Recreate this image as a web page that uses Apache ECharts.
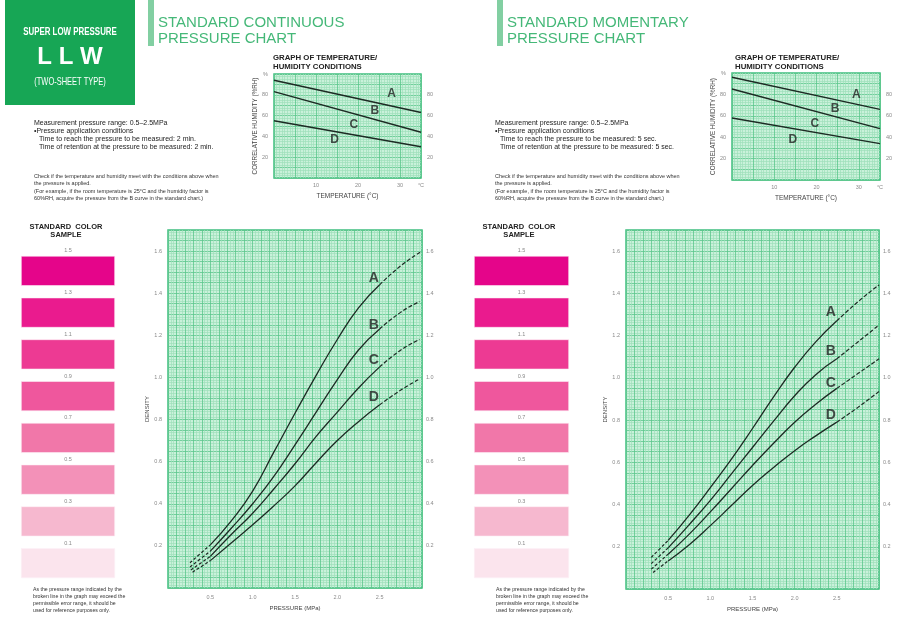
<!DOCTYPE html>
<html>
<head>
<meta charset="utf-8">
<title>LLW pressure charts</title>
<script src="https://cdn.jsdelivr.net/npm/echarts@6/dist/echarts.min.js"></script>
<style>
html, body { margin: 0; padding: 0; background: #fff; }
#main { width: 900px; height: 618px; }
</style>
</head>
<body>
<div id="main"></div>
<script>
'use strict';

// density curves [pressure (MPa), density]
var curveNames = ['A', 'B', 'C', 'D'];
var contA = [[0.26, 0.12], [0.5, 0.205], [0.75, 0.32], [1.0, 0.46], [1.25, 0.645], [1.5, 0.83], [1.75, 1.01], [2.0, 1.18], [2.25, 1.33], [2.5, 1.44], [2.75, 1.53], [3.0, 1.60]];
var contB = [[0.26, 0.10], [0.5, 0.175], [0.75, 0.285], [1.0, 0.40], [1.25, 0.53], [1.5, 0.68], [1.75, 0.835], [2.0, 0.99], [2.25, 1.13], [2.5, 1.23], [2.75, 1.31], [2.97, 1.36]];
var contC = [[0.27, 0.086], [0.5, 0.15], [0.75, 0.255], [1.0, 0.355], [1.25, 0.47], [1.5, 0.59], [1.75, 0.72], [2.0, 0.835], [2.25, 0.95], [2.5, 1.05], [2.75, 1.13], [2.97, 1.18]];
var contD = [[0.29, 0.075], [0.5, 0.13], [0.75, 0.215], [1.0, 0.30], [1.25, 0.39], [1.5, 0.485], [1.75, 0.595], [2.0, 0.70], [2.25, 0.79], [2.5, 0.87], [2.75, 0.94], [2.96, 0.99]];

var momA = [[0.3, 0.15], [0.5, 0.23], [0.75, 0.35], [1.0, 0.48], [1.25, 0.615], [1.5, 0.76], [1.75, 0.91], [2.0, 1.05], [2.25, 1.17], [2.5, 1.27], [2.75, 1.36], [3.0, 1.44]];
var momB = [[0.3, 0.12], [0.5, 0.195], [0.75, 0.305], [1.0, 0.42], [1.25, 0.545], [1.5, 0.67], [1.75, 0.795], [2.0, 0.915], [2.25, 1.015], [2.5, 1.09], [2.75, 1.17], [3.0, 1.25]];
var momC = [[0.3, 0.094], [0.5, 0.165], [0.75, 0.26], [1.0, 0.365], [1.25, 0.475], [1.5, 0.585], [1.75, 0.69], [2.0, 0.79], [2.25, 0.875], [2.5, 0.95], [2.75, 1.02], [3.0, 1.09]];
var momD = [[0.32, 0.078], [0.5, 0.133], [0.75, 0.21], [1.0, 0.30], [1.25, 0.395], [1.5, 0.49], [1.75, 0.575], [2.0, 0.655], [2.25, 0.725], [2.5, 0.79], [2.75, 0.86], [3.0, 0.935]];

var contLabelAt = [[2.43, 1.47], [2.43, 1.25], [2.43, 1.08], [2.43, 0.906]];
var momLabelAt = [[2.43, 1.31], [2.43, 1.127], [2.43, 0.975], [2.43, 0.825]];

// temperature / humidity boundaries [temperature, humidity]
var contHumTop = [[0, 94], [35, 63]];
var contHumMid = [[0, 83], [35, 44]];
var contHumLow = [[0, 55], [35, 30]];
var momHumTop = [[0, 96], [35, 66]];
var momHumMid = [[0, 85], [35, 48]];
var momHumLow = [[0, 58], [35, 34]];
var contZoneAt = [[28, 81], [24, 64.5], [19, 51.5], [14.4, 36.5]];
var momZoneAt = [[29.4, 80], [24.4, 67], [19.6, 53], [14.4, 38]];

// colour samples
var swatchDensity = ['1.5', '1.3', '1.1', '0.9', '0.7', '0.5', '0.3', '0.1'];
var swatchColors = ['#e5058a', '#ea1b8e', '#ed3a93', '#ef579d', '#f177a9', '#f391b8', '#f6b8cf', '#fbe4ed'];

// tick labels
var pressureTicks = [0.5, 1.0, 1.5, 2.0, 2.5];
var densityTicks = [0.2, 0.4, 0.6, 0.8, 1.0, 1.2, 1.4, 1.6];
var tempTicks = [10, 20, 30];
var humidityTicks = [20, 40, 60, 80];

var ink = '#1c2a23';
var green = '#45b878';
var font = 'Liberation Sans, Arial, sans-serif';
var gridBg = '#c9f1da';
var major = '#5cc78c';
var minor = '#9edfba';
var tickGray = '#8a8a8a';

function inList(list, v) {
    return list.some(function (t) { return Math.abs(t - v) < 1e-6; });
}

function paperLines(step) {
    return {
        splitLine: { show: true, lineStyle: { color: major, width: 0.8 } },
        minorTick: { show: false, splitNumber: step },
        minorSplitLine: { show: true, lineStyle: { color: minor, width: 0.7 } }
    };
}

function tempAxis(gi) {
    return Object.assign({
        type: 'value', gridIndex: gi, min: 0, max: 35, interval: 5,
        name: 'TEMPERATURE (°C)', nameLocation: 'middle', nameGap: 15,
        nameTextStyle: { fontSize: 6.5, color: '#444', fontFamily: font },
        axisLine: { show: false }, axisTick: { show: false },
        axisLabel: {
            fontSize: 5.5, color: tickGray, margin: 4, fontFamily: font,
            formatter: function (v) { return inList(tempTicks, v) ? String(v) : (v === 35 ? '°C' : ''); }
        }
    }, paperLines(8));
}

function humAxis(gi, right) {
    var ax = {
        type: 'value', gridIndex: gi, min: 0, max: 100, interval: 10,
        position: right ? 'right' : 'left',
        axisLine: { show: false }, axisTick: { show: false },
        axisLabel: {
            fontSize: 5.5, color: tickGray, margin: 6, fontFamily: font,
            formatter: function (v) {
                if (inList(humidityTicks, v)) return String(v);
                return (!right && v === 100) ? '%' : '';
            }
        }
    };
    if (right) {
        ax.splitLine = { show: false };
    } else {
        ax.name = 'CORRELATIVE HUMIDITY (%RH)';
        ax.nameLocation = 'middle';
        ax.nameGap = 14;
        ax.nameTextStyle = { fontSize: 6.3, color: '#444', fontFamily: font };
        Object.assign(ax, paperLines(4));
    }
    return ax;
}

function pressureAxis(gi) {
    return Object.assign({
        type: 'value', gridIndex: gi, min: 0, max: 3, interval: 0.1,
        name: 'PRESSURE (MPa)', nameLocation: 'middle', nameGap: 17,
        nameTextStyle: { fontSize: 6, color: '#444', fontFamily: font },
        axisLine: { show: false }, axisTick: { show: false },
        axisLabel: {
            fontSize: 5.5, color: tickGray, margin: 6, fontFamily: font,
            formatter: function (v) { return inList(pressureTicks, v) ? v.toFixed(1) : ''; }
        }
    }, paperLines(3));
}

function densityAxis(gi, right) {
    var ax = {
        type: 'value', gridIndex: gi, min: 0, max: 1.7, interval: 0.05,
        position: right ? 'right' : 'left',
        axisLine: { show: false }, axisTick: { show: false },
        axisLabel: {
            fontSize: 5.5, color: tickGray, margin: right ? 4 : 6, fontFamily: font,
            formatter: function (v) { return inList(densityTicks, v) ? v.toFixed(1) : ''; }
        }
    };
    if (right) {
        ax.splitLine = { show: false };
    } else {
        ax.name = 'DENSITY';
        ax.nameLocation = 'middle';
        ax.nameGap = 17;
        ax.nameTextStyle = { fontSize: 6, color: '#444', fontFamily: font };
        Object.assign(ax, paperLines(4));
    }
    return ax;
}

function curveSeries(pts, xi, yi) {
    var low = pts.filter(function (p) { return p[0] <= 0.5; });
    var mid = pts.filter(function (p) { return p[0] >= 0.5 && p[0] <= 2.5; });
    var high = pts.filter(function (p) { return p[0] >= 2.5; });
    var base = { type: 'line', xAxisIndex: xi, yAxisIndex: yi, symbol: 'none', smooth: true, silent: true, z: 3 };
    return [
        Object.assign({}, base, { data: low, lineStyle: { color: ink, width: 1.2, type: [3, 2] } }),
        Object.assign({}, base, { data: mid, lineStyle: { color: ink, width: 1.3 } }),
        Object.assign({}, base, { data: high, lineStyle: { color: ink, width: 1.2, type: [4, 2] } })
    ];
}

function boundarySeries(pts, xi, yi) {
    return { type: 'line', xAxisIndex: xi, yAxisIndex: yi, symbol: 'none', silent: true, z: 3, data: pts, lineStyle: { color: ink, width: 1.4 } };
}

function letterSeries(pos, xi, yi, size) {
    return {
        type: 'scatter', xAxisIndex: xi, yAxisIndex: yi, symbolSize: 1, silent: true, z: 5,
        itemStyle: { color: 'rgba(0,0,0,0)' },
        data: pos.map(function (p, i) { return { value: p, name: curveNames[i] }; }),
        label: { show: true, position: 'inside', formatter: '{b}', fontSize: size, fontWeight: 'bold', color: '#222', fontFamily: font }
    };
}

function swatchSeries(xi, yi) {
    return {
        type: 'bar', xAxisIndex: xi, yAxisIndex: yi, barWidth: 30, silent: true,
        data: swatchColors.map(function (c) { return { value: 1, itemStyle: { color: c, borderColor: '#fdf0f6', borderWidth: 0.6 } }; }),
        label: { show: true, position: 'top', distance: 2, formatter: '{b}', fontSize: 5.5, color: tickGray, fontFamily: font }
    };
}

function txt(x, y, text, size, opts) {
    opts = opts || {};
    return {
        type: 'text', silent: true, z: 10,
        x: x, y: y, scaleX: opts.scaleX || 1,
        style: {
            text: text, x: 0, y: 0,
            fill: opts.fill || '#222',
            fontSize: size, fontFamily: font, fontWeight: opts.weight || 'normal',
            align: opts.align || 'left', textAlign: opts.align || 'left',
            verticalAlign: 'middle', textVerticalAlign: 'middle'
        }
    };
}

function sideTexts(x0, minutes) {
    var out = [];
    out.push(txt(x0, 123, 'Measurement pressure range: 0.5–2.5MPa', 7));
    out.push(txt(x0, 131, '•Pressure application conditions', 7));
    out.push(txt(x0 + 5, 139, 'Time to reach the pressure to be measured: ' + minutes, 7));
    out.push(txt(x0 + 5, 147, 'Time of retention at the pressure to be measured: ' + minutes, 7));
    out.push(txt(x0, 176, 'Check if the temperature and humidity meet with the conditions above when', 5.5, { fill: '#333' }));
    out.push(txt(x0, 183.5, 'the pressure is applied.', 5.5, { fill: '#333' }));
    out.push(txt(x0, 191, '(For example, if the room temperature is 25°C and the humidity factor is', 5.5, { fill: '#333' }));
    out.push(txt(x0, 198.5, '60%RH, acquire the pressure from the B curve in the standard chart.)', 5.5, { fill: '#333' }));
    return out;
}

function sampleTexts(cx, x0) {
    var out = [];
    out.push(txt(cx, 227, 'STANDARD  COLOR', 7.5, { weight: 'bold', align: 'center' }));
    out.push(txt(cx, 235, 'SAMPLE', 7.5, { weight: 'bold', align: 'center' }));
    var note = ['As the pressure range indicated by the', 'broken line in the graph may exceed the',
        'permissible error range, it should be', 'used for reference purposes only.'];
    note.forEach(function (line, i) {
        out.push(txt(x0, 590 + i * 6.7, line, 5.2, { fill: '#333' }));
    });
    return out;
}

var graphics = [
    { type: 'rect', silent: true, shape: { x: 5, y: 0, width: 130, height: 105 }, style: { fill: '#17a655' } },
    txt(70, 32, 'SUPER LOW PRESSURE', 11, { fill: '#fff', weight: 'bold', align: 'center', scaleX: 0.72 }),
    txt(70, 57, 'L L W', 24, { fill: '#fff', weight: 'bold', align: 'center' }),
    txt(70, 82, '(TWO-SHEET TYPE)', 11, { fill: '#fff', align: 'center', scaleX: 0.68 }),
    { type: 'rect', silent: true, shape: { x: 148, y: 0, width: 6, height: 46 }, style: { fill: '#82cfa2' } },
    txt(158, 23, 'STANDARD CONTINUOUS', 15, { fill: green }),
    txt(158, 39, 'PRESSURE CHART', 15, { fill: green }),
    { type: 'rect', silent: true, shape: { x: 497, y: 0, width: 6, height: 46 }, style: { fill: '#82cfa2' } },
    txt(507, 23, 'STANDARD MOMENTARY', 15, { fill: green }),
    txt(507, 39, 'PRESSURE CHART', 15, { fill: green }),
    txt(273, 58, 'GRAPH OF TEMPERATURE/', 7.8, { weight: 'bold' }),
    txt(273, 67, 'HUMIDITY CONDITIONS', 7.8, { weight: 'bold' }),
    txt(735, 58, 'GRAPH OF TEMPERATURE/', 7.8, { weight: 'bold' }),
    txt(735, 67, 'HUMIDITY CONDITIONS', 7.8, { weight: 'bold' })
].concat(sideTexts(34, '2 min.'), sideTexts(495, '5 sec.'), sampleTexts(66, 33), sampleTexts(519, 496));

var paper = { show: true, backgroundColor: gridBg, borderColor: '#3fbf80', borderWidth: 1.5 };

var option = {
    animation: false,
    backgroundColor: '#fff',
    textStyle: { fontFamily: font },
    graphic: graphics,
    grid: [
        Object.assign({ left: 274, top: 74, width: 147, height: 104 }, paper),
        Object.assign({ left: 732, top: 73, width: 148, height: 107 }, paper),
        Object.assign({ left: 168, top: 230, width: 254, height: 358 }, paper),
        Object.assign({ left: 626, top: 230, width: 253, height: 359 }, paper),
        { left: 21, top: 250, width: 94, height: 334 },
        { left: 474, top: 250, width: 95, height: 334 }
    ],
    xAxis: [
        tempAxis(0),
        tempAxis(1),
        pressureAxis(2),
        pressureAxis(3),
        { type: 'value', gridIndex: 4, min: 0, max: 1, show: false },
        { type: 'value', gridIndex: 5, min: 0, max: 1, show: false }
    ],
    yAxis: [
        humAxis(0, false), humAxis(0, true),
        humAxis(1, false), humAxis(1, true),
        densityAxis(2, false), densityAxis(2, true),
        densityAxis(3, false), densityAxis(3, true),
        { type: 'category', gridIndex: 4, data: swatchDensity, inverse: true, show: false },
        { type: 'category', gridIndex: 5, data: swatchDensity, inverse: true, show: false }
    ],
    series: [].concat(
        boundarySeries(contHumTop, 0, 0), boundarySeries(contHumMid, 0, 0), boundarySeries(contHumLow, 0, 0),
        letterSeries(contZoneAt, 0, 0, 12),
        boundarySeries(momHumTop, 1, 2), boundarySeries(momHumMid, 1, 2), boundarySeries(momHumLow, 1, 2),
        letterSeries(momZoneAt, 1, 2, 12),
        curveSeries(contA, 2, 4), curveSeries(contB, 2, 4), curveSeries(contC, 2, 4), curveSeries(contD, 2, 4),
        letterSeries(contLabelAt, 2, 4, 14),
        curveSeries(momA, 3, 6), curveSeries(momB, 3, 6), curveSeries(momC, 3, 6), curveSeries(momD, 3, 6),
        letterSeries(momLabelAt, 3, 6, 14),
        swatchSeries(4, 8), swatchSeries(5, 9)
    )
};

var myChart = echarts.init(document.getElementById('main'));
myChart.setOption(option);
</script>
</body>
</html>
